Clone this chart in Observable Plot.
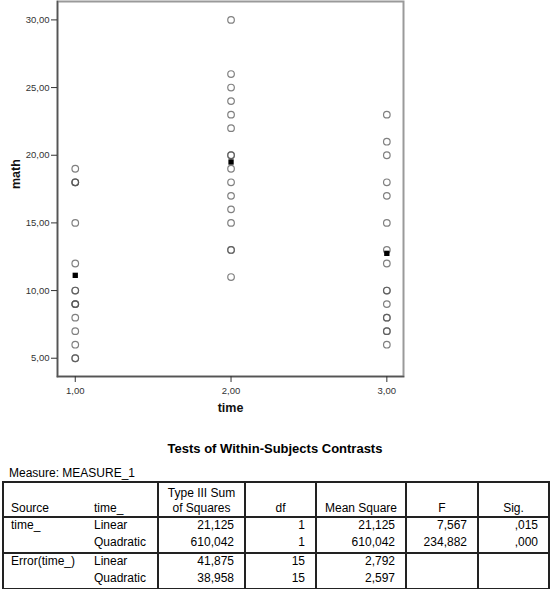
<!DOCTYPE html>
<html>
<head>
<meta charset="utf-8">
<script src="https://cdn.jsdelivr.net/npm/d3@7"></script>
<script src="https://cdn.jsdelivr.net/npm/@observablehq/plot@0.6"></script>
<style>
  html, body { margin: 0; padding: 0; background: #fff; }
  #wrap { position: relative; width: 550px; height: 589px; font-family: "Liberation Sans", Arial, sans-serif; color: #000; }
  #chart svg { display: block; }
  #title { position: absolute; top: 441px; left: 0; width: 550px; text-align: center; font-weight: bold; font-size: 13px; line-height: 15px; }
  #measure { position: absolute; top: 466px; left: 9px; font-size: 12px; line-height: 14px; }
  table { position: absolute; top: 481px; left: 2px; border-collapse: collapse; table-layout: fixed; font-size: 12px; }
  td { padding: 0; line-height: 13px; vertical-align: top; white-space: nowrap; overflow: visible; }
  thead td { height: 33px; vertical-align: bottom; line-height: 15px; border-bottom: 2px solid #222; }
  tbody td { height: 16px; padding-top: 1px; }
  .l { text-align: left; }
  .c { text-align: center; }
  .r { text-align: right; padding-right: 10px; }
  .vl { border-left: 2px solid #222; }
  .sep td { border-top: 2px solid #222; }
  table { border: 2px solid #222; }
</style>
</head>
<body>
<div id="wrap">
  <div id="chart"></div>
  <div id="title"></div>
  <div id="measure"></div>
  <table id="tbl"></table>
</div>
<script>
// ---- data ----
const times = [1, 2, 3];
const time1 = [19, 18, 18, 18, 15, 12, 10, 10, 9, 9, 9, 8, 7, 6, 5, 5];
const time2 = [30, 26, 25, 24, 23, 22, 20, 20, 19, 18, 17, 16, 15, 13, 13, 11];
const time3 = [23, 21, 20, 18, 17, 15, 13, 12, 10, 10, 9, 8, 8, 7, 7, 6];
const yTicks = [5, 10, 15, 20, 25, 30];

const tableTitle = "Tests of Within-Subjects Contrasts";
const measureLabel = "Measure: MEASURE_1";
const headers = ["Source", "time_", "Type III Sum of Squares", "df", "Mean Square", "F", "Sig."];
const sources = ["time_", "", "Error(time_)", ""];
const contrasts = ["Linear", "Quadratic", "Linear", "Quadratic"];
const typeIII = ["21,125", "610,042", "41,875", "38,958"];
const dfs = ["1", "1", "15", "15"];
const meanSq = ["21,125", "610,042", "2,792", "2,597"];
const fVals = ["7,567", "234,882", "", ""];
const sigs = [",015", ",000", "", ""];

const data = [time1, time2, time3].flatMap((vals, i) => vals.map(v => ({time: times[i], math: v})));
const fmt = d => d3.format(".2f")(d).replace(".", ",");

const chart = Plot.plot({
  width: 550,
  height: 420,
  marginLeft: 57,
  marginRight: 147,
  marginTop: 1,
  marginBottom: 44,
  style: {fontFamily: "'Liberation Sans', Arial, sans-serif", fontSize: "9.5px", color: "#333", background: "#fff"},
  x: {domain: [0.886, 3.107]},
  y: {domain: [3.65, 31.36]},
  marks: [
    Plot.frame({stroke: "#9a9a9a", strokeWidth: 2}),
    Plot.frame({anchor: "left", stroke: "#555", strokeWidth: 1.5}),
    Plot.frame({anchor: "bottom", stroke: "#555", strokeWidth: 1.5}),
    Plot.axisY({ticks: yTicks, tickFormat: fmt, tickSize: 6, tickPadding: 2, label: null, fontSize: 9.5}),
    Plot.axisX({ticks: times, tickFormat: fmt, tickSize: 6, tickPadding: 5, label: null, fontSize: 9.5}),
    Plot.dot(data, {x: "time", y: "math", r: 3.3, stroke: "#555", strokeOpacity: 0.75, strokeWidth: 1.2, fill: "none"}),
    Plot.dot(data, Plot.groupX({y: "mean"}, {x: "time", y: "math", symbol: "square", fill: "#000", r: 3})),
    Plot.text(["math"], {frameAnchor: "left", dx: -42, rotate: -90, fontWeight: "bold", fontSize: 12.5, fill: "#111"}),
    Plot.text(["time"], {frameAnchor: "bottom", dy: 35, fontWeight: "bold", fontSize: 12.5, fill: "#111"})
  ]
});
document.getElementById("chart").appendChild(chart);

document.getElementById("title").textContent = tableTitle;
document.getElementById("measure").textContent = measureLabel;

// ---- table ----
const colW = [86, 69, 87, 71, 90, 72, 71];
const tbl = d3.select("#tbl");
const cg = tbl.append("colgroup");
colW.forEach(w => cg.append("col").style("width", w + "px"));
const hr = tbl.append("thead").append("tr");
const hcls = ["l", "l", "c vl", "c vl", "c vl", "c vl", "c vl"];
headers.forEach((h, i) => {
  const td = hr.append("td").attr("class", hcls[i]);
  if (i === 0) td.style("padding-left", "7px");
  if (i === 1) td.style("padding-left", "5px");
  if (h === "Type III Sum of Squares") {
    td.html("Type III Sum<br>of Squares");
  } else td.text(h);
});
const tb = tbl.append("tbody");
sources.forEach((s, r) => {
  const tr = tb.append("tr");
  if (r === 2) tr.attr("class", "sep");
  const cells = [s, contrasts[r], typeIII[r], dfs[r], meanSq[r], fVals[r], sigs[r]];
  const cls = ["l", "l", "r vl", "r vl", "r vl", "r vl", "r vl"];
  cells.forEach((c, i) => {
    const td = tr.append("td").attr("class", cls[i]).text(c);
    if (i === 0) td.style("padding-left", "7px");
    if (i === 1) td.style("padding-left", "5px");
  });
});
</script>
</body>
</html>
